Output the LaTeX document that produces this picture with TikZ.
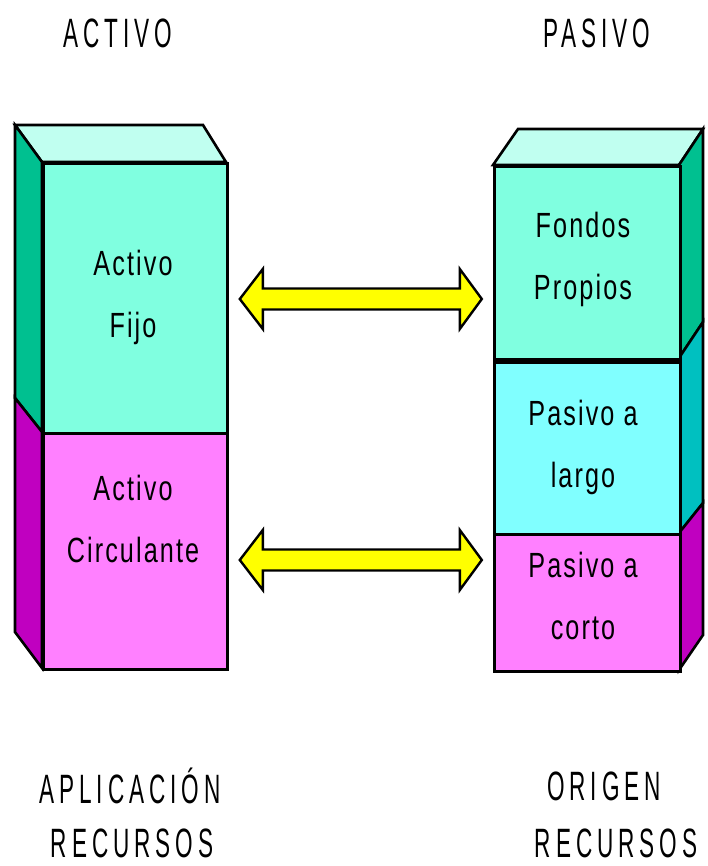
\documentclass[tikz,border=0pt]{standalone}
\usepackage{fontspec}
\newfontfamily\pixfont[FakeStretch=0.72,LetterSpace=6]{Liberation Sans}
\newfontfamily\capfont[FakeStretch=0.55,LetterSpace=12]{Liberation Sans}
\usetikzlibrary{calc}
\definecolor{tealfront}{HTML}{80FFE0}
\definecolor{tealtop}{HTML}{C0FFF0}
\definecolor{tealside}{HTML}{00C090}
\definecolor{cyanfront}{HTML}{80FFFF}
\definecolor{cyanside}{HTML}{00C0C0}
\definecolor{pinkfront}{HTML}{FF80FF}
\definecolor{pinkside}{HTML}{C000C0}
\definecolor{arrowyellow}{HTML}{FFFF00}
\tikzset{
  edge/.style={draw=black, line width=2.6pt, line join=miter},
  face/.style={edge, inner sep=0pt, anchor=north west},
  blocktext/.style={font=\pixfont\fontsize{35}{62}\selectfont, align=center, text=black},
  heading/.style={font=\capfont\fontsize{41}{50}\selectfont, inner sep=0pt, text=black},
  dblarrow/.pic={
    \draw[edge, fill=arrowyellow, line width=2.4pt]
      (-121,0) -- (-98,-30) -- (-98,-10.5) -- (99,-10.5) -- (99,-30) -- (121,0)
      -- (99,30) -- (99,10.5) -- (-98,10.5) -- (-98,30) -- cycle;
  }
}
\begin{document}
\begin{tikzpicture}[x=1pt, y=-1pt]
\useasboundingbox (0,0) rectangle (708,866);

% ---- left column: ACTIVO ----
\draw[edge, fill=tealtop] (15,125) -- (203,125) -- (226,162) -- (42,162) -- cycle;
\draw[edge, fill=tealside] (15,125) -- (42,162) -- (42,432) -- (15,398) -- cycle;
\draw[edge, fill=pinkside] (15,398) -- (42,432) -- (42,668) -- (15,632) -- cycle;
\node[face, fill=tealfront, minimum width=184pt, minimum height=270pt] (fijo) at (42,162) {};
\node[face, fill=pinkfront, minimum width=184pt, minimum height=236pt] (circ) at (42,432) {};

\node[blocktext] (tfijo) at (133,297) {Activo\\Fijo};
\node[blocktext] (tcirc) at (133,519) {Activo\\Circulante};

% ---- right column: PASIVO ----
\draw[edge, fill=tealtop] (493,165) -- (518,129) -- (703,129) -- (679,165) -- cycle;
\draw[edge, fill=tealside] (679,165) -- (703,129) -- (703,322) -- (679,358) -- cycle;
\draw[edge, fill=cyanside] (679,358) -- (703,322) -- (703,503) -- (679,533) -- cycle;
\draw[edge, fill=pinkside] (679,533) -- (703,503) -- (703,635) -- (679,670) -- cycle;
\node[face, fill=tealfront, minimum width=186pt, minimum height=193pt] (propios) at (493,165) {};
\node[face, fill=cyanfront, minimum width=186pt, minimum height=175pt] (largo) at (493,358) {};
\node[face, fill=pinkfront, minimum width=186pt, minimum height=137pt] (corto) at (493,533) {};
\draw[line width=6pt] (propios.south west) -- (propios.south east);

\node[blocktext] (tpropios) at (583,259) {Fondos\\Propios};
\node[blocktext] (tlargo) at (583,447) {Pasivo a\\largo};
\node[blocktext] (tcorto) at (583,596) {Pasivo a\\corto};

% ---- double arrows linking both sides ----
\pic at ($(fijo.east |- 0,299)!0.5!(propios.west |- 0,299)$) {dblarrow};
\pic at ($(circ.east |- 0,560)!0.5!(corto.west |- 0,560)$) {dblarrow};

% ---- headings ----
\node[heading] (hact) at (118,33) {ACTIVO};
\node[heading] (hpas) at (597,33) {PASIVO};
\node[heading] (happ) at (130,786) {APLICACIÓN};
\node[heading] (happr) at (132,843) {RECURSOS};
\node[heading] (hori) at (604,786) {ORIGEN};
\node[heading] (horir) at (616,843) {RECURSOS};
\end{tikzpicture}
\end{document}
